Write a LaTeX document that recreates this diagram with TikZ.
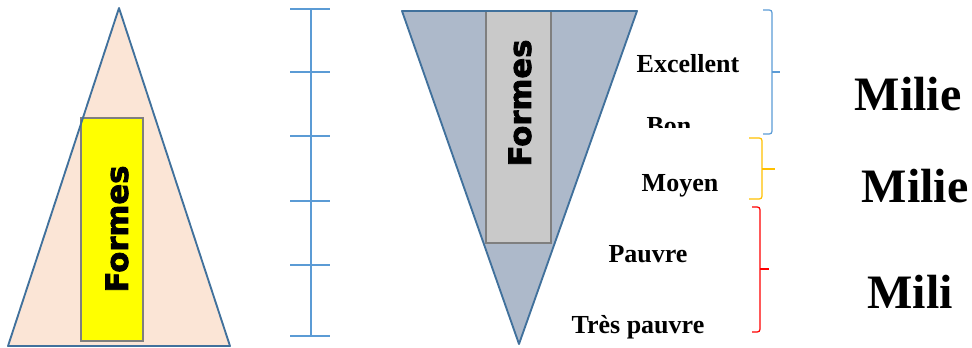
\documentclass[tikz,border=0pt]{standalone}
\usepackage{fontspec}
\setmainfont{Liberation Serif}
\newfontfamily\heavysans[BoldFeatures={FakeBold=2.5}]{DejaVu Sans}
\usetikzlibrary{calc}

\definecolor{edgeblue}{HTML}{41719C}
\definecolor{peach}{HTML}{FBE5D6}
\definecolor{slate}{HTML}{ADB9CA}
\definecolor{rulerblue}{HTML}{5B9BD5}
\definecolor{boxgray}{HTML}{C9C9C9}
\definecolor{boxedge}{HTML}{7F7F7F}
\definecolor{amber}{HTML}{FFC000}
\definecolor{pureyellow}{HTML}{FFFF00}

\begin{document}
\begin{tikzpicture}[x=0.75pt,y=-0.75pt,
  tri/.style={draw=edgeblue,line width=1.4pt,line join=round},
  formesbox/.style={draw=boxedge,line width=1.5pt},
  formes/.style={rotate=90,font=\heavysans\bfseries\fontsize{23}{23}\selectfont},
  level/.style={anchor=base,font=\bfseries\fontsize{19.5}{20}\selectfont},
  milieu/.style={anchor=base,font=\bfseries\fontsize{36}{36}\selectfont},
  bracket/.style={line width=0.9pt,rounded corners=2pt}]

\useasboundingbox (0,0) rectangle (972,347);

\coordinate (a1) at (119,  8);
\coordinate (a2) at (  8,346);
\coordinate (a3) at (230,346);
\coordinate (b1) at (402, 11);
\coordinate (b2) at (637, 11);
\coordinate (b3) at (519,344);

% pyramide
\fill[peach] (a1)--(a2)--(a3)--cycle;
\draw[formesbox,fill=pureyellow] (81,118) rectangle (143,341);
\draw[tri] (a1)--(a2)--(a3)--cycle;
\node[formes] (f1) at (117,229) {Formes};

% echelle
\draw[rulerblue,line width=0.8pt] (311,10)--(311,335);
\foreach \y in {9,72,136,201,265,336}
  {\draw[rulerblue,line width=0.8pt] (290,\y)--(330,\y);}

% entonnoir
\draw[tri,fill=slate] (b1)--(b2)--(b3)--cycle;
\draw[formesbox,fill=boxgray] (486,11) rectangle (551,243);
\draw[edgeblue,line width=1.4pt] (b1)--(b2);
\node[formes] (f2) at (520,103) {Formes};

% niveaux
\node[level] (exc) at (688, 72) {Excellent};
\begin{scope}
  \clip (620,100) rectangle (720,127);
  \node[level] (bon) at (669,134) {Bon};
\end{scope}
\node[level] (moy) at (680,191) {Moyen};
\node[level] (pau) at (648,262) {Pauvre};
\node[level] (tpa) at (638,333) {Très pauvre};

% accolades
\foreach \col/\xl/\xv/\xt/\yt/\ym/\yb in
   {rulerblue/763/772/780/10/72/134,
    amber/749/762/775/138/169/199,
    red/752/760/769/207/269/332}
  {\draw[bracket,color=\col] (\xl,\yt)--(\xv,\yt)--(\xv,\yb)--(\xl,\yb);
   \draw[color=\col,line width=0.9pt] (\xv,\ym)--(\xt,\ym);}

\node[milieu] (m1) at (908,110) {Milie};
\node[milieu] (m2) at (915,202) {Milie};
\node[milieu] (m3) at (910,308) {Mili};

\end{tikzpicture}
\end{document}
